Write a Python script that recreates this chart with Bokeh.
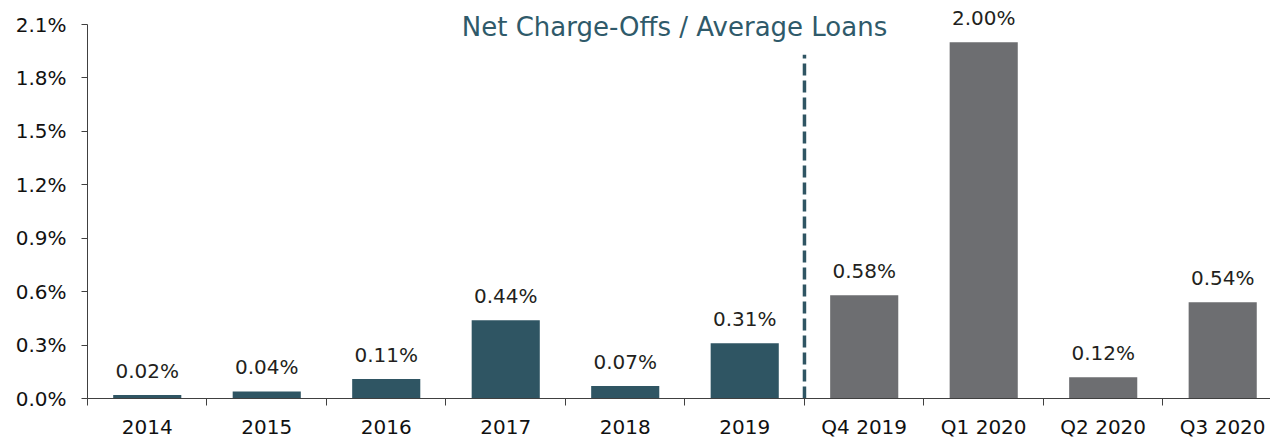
from bokeh.plotting import figure
from bokeh.models import (ColumnDataSource, FixedTicker, PrintfTickFormatter,
                          LabelSet, Label, Range1d)
from bokeh.core.properties import value
from bokeh.embed import file_html
from bokeh.resources import INLINE

# ---- data ----
categories = ["2014", "2015", "2016", "2017", "2018", "2019",
              "Q4 2019", "Q1 2020", "Q2 2020", "Q3 2020"]
values = [0.02, 0.04, 0.11, 0.44, 0.07, 0.31, 0.58, 2.00, 0.12, 0.54]
value_labels = ["0.02%", "0.04%", "0.11%", "0.44%", "0.07%", "0.31%",
                "0.58%", "2.00%", "0.12%", "0.54%"]
annual_count = 6
y_ticks = [0.0, 0.3, 0.6, 0.9, 1.2, 1.5, 1.8, 2.1]
divider_top = 1.93
title_text = "Net Charge-Offs / Average Loans"

# ---- styles ----
ANNUAL = "#2F5563"
QUARTER = "#6D6E71"
AXIS = "#404040"
FONT = "DejaVu Sans"

n = len(categories)
xs = [i + 0.5 for i in range(n)]
colors = [ANNUAL if i < annual_count else QUARTER for i in range(n)]
src = ColumnDataSource(dict(x=xs, value=values, label=value_labels, color=colors))

y_max = y_ticks[-1]
p = figure(width=1270, height=441,
           x_range=Range1d(0, 9.9), y_range=Range1d(0, y_max * 398 / 374),
           output_backend="svg", toolbar_location=None,
           min_border_left=87, min_border_top=0,
           min_border_right=0, min_border_bottom=42)
p.grid.visible = False
p.outline_line_color = None
p.background_fill_color = "white"
p.border_fill_color = "white"

p.vbar(x="x", top="value", bottom=0, width=0.57, fill_color="color",
       line_color=None, source=src)

p.segment(x0=[annual_count], y0=[0], x1=[annual_count], y1=[divider_top],
          line_color=ANNUAL, line_width=3.5, line_dash="12 5")

p.add_layout(LabelSet(x="x", y="value", text="label", source=src,
                      y_offset=17, text_align="center",
                      text_baseline="alphabetic",
                      text_font=value(FONT), text_font_size=value("20px"),
                      text_color="#231F20"))

p.add_layout(Label(x=587, y=372, x_units="screen", y_units="screen",
                   text=title_text, text_align="center",
                   text_baseline="alphabetic", text_font=FONT,
                   text_font_size="26px", text_color="#2F5A6A"))

# x axis
xa = p.xaxis[0]
xa.ticker = FixedTicker(ticks=xs, minor_ticks=list(range(n + 1)))
xa.major_label_overrides = {x: c for x, c in zip(xs, categories)}
xa.major_tick_out = 0
xa.major_tick_in = 0
xa.minor_tick_out = 7
xa.minor_tick_in = 0
xa.minor_tick_line_color = AXIS
xa.axis_line_color = AXIS
xa.major_label_standoff = 9
xa.major_label_text_font = FONT
xa.major_label_text_font_size = "20px"
xa.major_label_text_color = "#111111"

# y axis
ya = p.yaxis[0]
ya.bounds = (y_ticks[0], y_max)
ya.ticker = FixedTicker(ticks=y_ticks)
ya.formatter = PrintfTickFormatter(format="%.1f%%")
ya.major_tick_out = 6
ya.major_tick_in = 0
ya.minor_tick_out = 0
ya.minor_tick_in = 0
ya.major_tick_line_color = AXIS
ya.axis_line_color = AXIS
ya.major_label_standoff = 15
ya.major_label_text_font = FONT
ya.major_label_text_font_size = "20px"
ya.major_label_text_color = "#111111"

open("out.html", "w").write(file_html(p, INLINE))
